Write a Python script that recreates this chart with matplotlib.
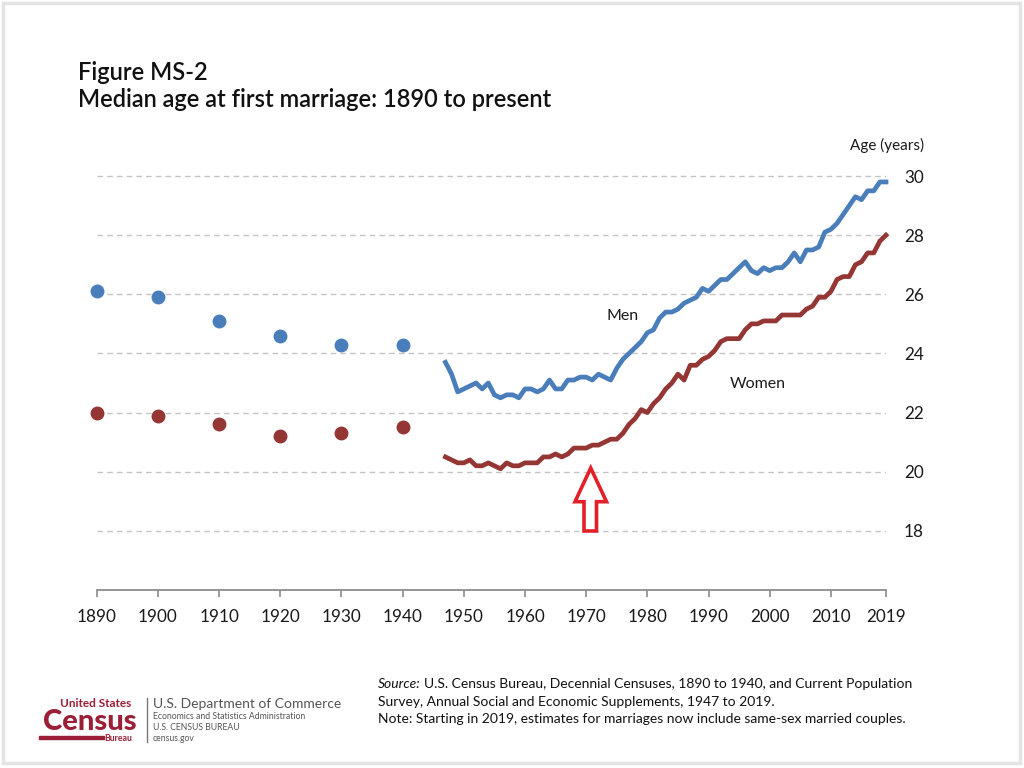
import matplotlib
matplotlib.use("Agg")
import matplotlib.pyplot as plt
from matplotlib.patches import Rectangle, Polygon
from matplotlib.lines import Line2D

plt.rcParams['font.family'] = ['Lato', 'DejaVu Sans']

# ---------------- data ----------------
census_years = [1890, 1900, 1910, 1920, 1930, 1940]
men_census = [26.1, 25.9, 25.1, 24.6, 24.3, 24.3]
women_census = [22.0, 21.9, 21.6, 21.2, 21.3, 21.5]

cps_years = list(range(1947, 2020))
men_cps = [23.7, 23.3, 22.7, 22.8, 22.9, 23.0, 22.8, 23.0, 22.6, 22.5,
           22.6, 22.6, 22.5, 22.8, 22.8, 22.7, 22.8, 23.1, 22.8, 22.8,
           23.1, 23.1, 23.2, 23.2, 23.1, 23.3, 23.2, 23.1, 23.5, 23.8,
           24.0, 24.2, 24.4, 24.7, 24.8, 25.2, 25.4, 25.4, 25.5, 25.7,
           25.8, 25.9, 26.2, 26.1, 26.3, 26.5, 26.5, 26.7, 26.9, 27.1,
           26.8, 26.7, 26.9, 26.8, 26.9, 26.9, 27.1, 27.4, 27.1, 27.5,
           27.5, 27.6, 28.1, 28.2, 28.4, 28.7, 29.0, 29.3, 29.2, 29.5,
           29.5, 29.8, 29.8]
women_cps = [20.5, 20.4, 20.3, 20.3, 20.4, 20.2, 20.2, 20.3, 20.2, 20.1,
             20.3, 20.2, 20.2, 20.3, 20.3, 20.3, 20.5, 20.5, 20.6, 20.5,
             20.6, 20.8, 20.8, 20.8, 20.9, 20.9, 21.0, 21.1, 21.1, 21.3,
             21.6, 21.8, 22.1, 22.0, 22.3, 22.5, 22.8, 23.0, 23.3, 23.1,
             23.6, 23.6, 23.8, 23.9, 24.1, 24.4, 24.5, 24.5, 24.5, 24.8,
             25.0, 25.0, 25.1, 25.1, 25.1, 25.3, 25.3, 25.3, 25.3, 25.5,
             25.6, 25.9, 25.9, 26.1, 26.5, 26.6, 26.6, 27.0, 27.1, 27.4,
             27.4, 27.8, 28.0]

x_ticks = [1890, 1900, 1910, 1920, 1930, 1940, 1950, 1960, 1970, 1980,
           1990, 2000, 2010, 2019]
y_ticks = [18, 20, 22, 24, 26, 28, 30]

BLUE = '#4A7EBB'
RED = '#943634'
W, H = 1024, 768

fig = plt.figure(figsize=(10.24, 7.68), dpi=100)

def fx(px):
    return px / W

def fy(py):
    return 1 - py / H

# page border
fig.patches.append(Rectangle((fx(3), fy(763)), fx(1017), (763 - 3) / H,
                             transform=fig.transFigure, fill=False,
                             edgecolor='#e4e4e4', linewidth=2.5))

left, right = 96.7, 886
top_px, bottom_px = 161.25, 590
ax = fig.add_axes([fx(left), fy(bottom_px), (right - left) / W,
                   (bottom_px - top_px) / H])
ax.set_xlim(1890, 2019)
ax.set_ylim(16, 30.5)

for s in ['top', 'left', 'right']:
    ax.spines[s].set_visible(False)
ax.spines['bottom'].set_color('#8c8c8c')
ax.spines['bottom'].set_linewidth(1.3)

ax.set_xticks(x_ticks)
ax.set_xticklabels([str(v) for v in x_ticks], fontsize=12.3, color='#1a1a1a')
ax.tick_params(axis='x', direction='out', length=5, width=1.2,
               color='#8c8c8c', pad=9)

ax.yaxis.tick_right()
ax.set_yticks(y_ticks)
ax.set_yticklabels([str(v) for v in y_ticks], fontsize=12.3, color='#1a1a1a')
ax.tick_params(axis='y', length=0, pad=13)
ax.grid(axis='y', color='#c4c4c4', linestyle=(0, (4, 3)), linewidth=1.0)
ax.set_axisbelow(True)

ax.plot(census_years, men_census, 'o', color=BLUE, markersize=9, zorder=3,
        clip_on=False)
ax.plot(census_years, women_census, 'o', color=RED, markersize=9, zorder=3,
        clip_on=False)
ax.plot(cps_years, men_cps, '-', color=BLUE, linewidth=3.4,
        solid_joinstyle='round', zorder=3, clip_on=False)
ax.plot(cps_years, women_cps, '-', color=RED, linewidth=3.4,
        solid_joinstyle='round', zorder=3, clip_on=False)

ax.text(1976, 25.25, 'Men', fontsize=11.5, color='#1a1a1a',
        ha='center', va='center')
ax.text(1998, 22.95, 'Women', fontsize=11.5, color='#1a1a1a',
        ha='center', va='center')

fig.text(fx(924), fy(145), 'Age (years)', fontsize=11, ha='right',
         va='center', color='#1a1a1a')

# title
fig.text(fx(78), fy(79.5), 'Figure MS-2', fontsize=17, weight='semibold',
         ha='left', va='baseline', color='#111111')
fig.text(fx(78), fy(106.7), 'Median age at first marriage: 1890 to present',
         fontsize=17, weight='semibold', ha='left', va='baseline',
         color='#111111')

# red outline arrow (annotation)
arrow_px = [(590.7, 468), (606.5, 501.7), (596.5, 501.7), (596.5, 531),
            (584, 531), (584, 501.7), (575, 501.7)]
fig.patches.append(Polygon([(fx(a), fy(b)) for a, b in arrow_px],
                           closed=True, transform=fig.transFigure,
                           facecolor='white', edgecolor='#e3202a',
                           linewidth=2.6, joinstyle='miter', zorder=5))

# source note
fig.canvas.draw()
renderer = fig.canvas.get_renderer()
t_src = fig.text(fx(378), fy(688), 'Source:', fontsize=10, style='italic',
                 ha='left', va='baseline', color='#111111')
bb = t_src.get_window_extent(renderer)
fig.text(bb.x1 / W + fx(3), fy(688),
         'U.S. Census Bureau, Decennial Censuses, 1890 to 1940, and Current Population',
         fontsize=10, ha='left', va='baseline', color='#111111')
fig.text(fx(378), fy(705.5),
         'Survey, Annual Social and Economic Supplements, 1947 to 2019.',
         fontsize=10, ha='left', va='baseline', color='#111111')
fig.text(fx(378), fy(723),
         'Note: Starting in 2019, estimates for marriages now include same-sex married couples.',
         fontsize=10, ha='left', va='baseline', color='#111111')

# logo
MAROON = '#9b1f36'
fig.text(fx(131), fy(707), 'United States', fontsize=8.5, weight='bold',
         ha='right', va='baseline', color=MAROON)
fig.text(fx(137), fy(730), 'Census', fontsize=21, weight='black',
         ha='right', va='baseline', color=MAROON)
fig.patches.append(Rectangle((fx(39), fy(738.5)), fx(104 - 39), 3.0 / H,
                             transform=fig.transFigure, color=MAROON))
fig.text(fx(132), fy(741), 'Bureau', fontsize=6.3, weight='bold',
         ha='right', va='baseline', color=MAROON)
fig.lines.append(Line2D([fx(147), fx(147)], [fy(698), fy(742)],
                        transform=fig.transFigure, color='#777777',
                        linewidth=1.0))
fig.text(fx(153), fy(708), 'U.S. Department of Commerce', fontsize=10,
         ha='left', va='baseline', color='#555555')
fig.text(fx(153), fy(719), 'Economics and Statistics Administration',
         fontsize=6.2, ha='left', va='baseline', color='#555555')
fig.text(fx(153), fy(730), 'U.S. CENSUS BUREAU', fontsize=6.2,
         ha='left', va='baseline', color='#555555')
fig.text(fx(153), fy(741), 'census.gov', fontsize=6.2,
         ha='left', va='baseline', color='#555555')

fig.savefig('out.png', dpi=100, facecolor='white')
